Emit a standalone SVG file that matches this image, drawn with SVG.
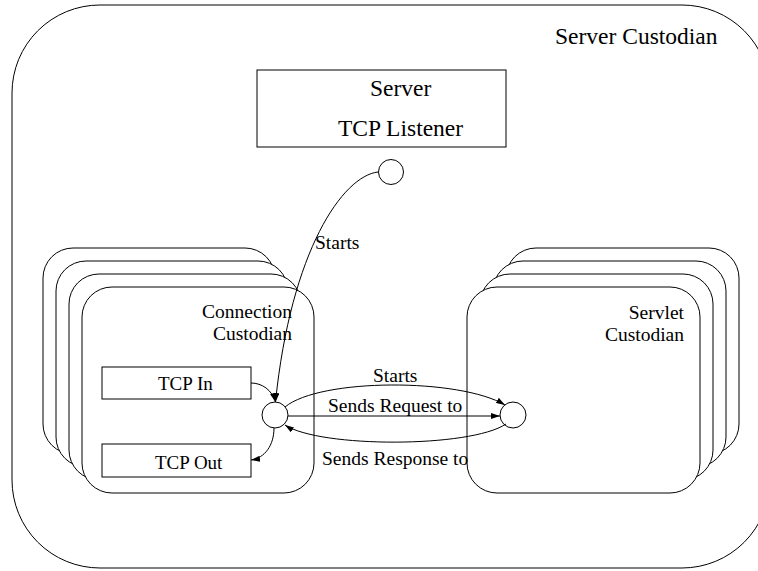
<svg xmlns="http://www.w3.org/2000/svg" width="758" height="571" viewBox="0 0 758 571" font-family="'Liberation Serif', 'Times New Roman', serif">
  <defs>
    <marker id="arrow" viewBox="0 0 10 10" refX="10" refY="5" markerWidth="9" markerHeight="6" orient="auto" markerUnits="userSpaceOnUse" preserveAspectRatio="none">
      <path d="M0,0 L10,5 L0,10 z" fill="#000"/>
    </marker>
  </defs>
  <style>
    .shape { fill: #fff; stroke: #000; stroke-width: 1; }
    .port { fill: #fff; stroke: #000; stroke-width: 1; }
    .edge { fill: none; stroke: #000; stroke-width: 1; marker-end: url(#arrow); }
    text { font-family: 'Liberation Serif', 'Times New Roman', serif; fill: #000; }
    .big { font-size: 23.5px; }
    .small { font-size: 19.5px; }
    .box { font-size: 19px; }
  </style>

  <!-- outer custodian -->
  <g id="server-custodian">
    <rect class="shape" x="12" y="5" width="758" height="563" rx="88" ry="88" stroke-width="1.2"/>
    <text class="big" x="555" y="44">Server Custodian</text>
  </g>

  <!-- server / listener box -->
  <g id="server">
    <rect class="shape" x="257" y="70" width="249" height="77"/>
    <text class="big" x="370" y="96">Server</text>
    <text class="big" x="338" y="136">TCP Listener</text>
  </g>
  <g id="listener-port">
    <circle class="port" cx="391" cy="172" r="12.5"/>
  </g>

  <!-- stack of connection custodians, back to front -->
  <g id="connection-custodian">
    <rect class="shape" x="43" y="248" width="232" height="206" rx="30" ry="30"/>
    <rect class="shape" x="56" y="261" width="232" height="206" rx="30" ry="30"/>
    <rect class="shape" x="69" y="274" width="232" height="206" rx="30" ry="30"/>
    <rect class="shape" x="82" y="287" width="232" height="206" rx="30" ry="30"/>
    <text class="small" x="292" y="318" text-anchor="end">Connection</text>
    <text class="small" x="292" y="340" text-anchor="end">Custodian</text>
  </g>

  <!-- stack of servlet custodians, back to front -->
  <g id="servlet-custodian">
    <rect class="shape" x="506" y="248" width="233" height="206" rx="30" ry="30"/>
    <rect class="shape" x="493" y="261" width="233" height="206" rx="30" ry="30"/>
    <rect class="shape" x="480" y="274" width="233" height="206" rx="30" ry="30"/>
    <rect class="shape" x="467" y="287" width="233" height="206" rx="30" ry="30"/>
    <text class="small" x="684" y="319" text-anchor="end">Servlet</text>
    <text class="small" x="684" y="341" text-anchor="end">Custodian</text>
  </g>

  <g id="tcp-in">
    <rect class="shape" x="102" y="367" width="149" height="32"/>
    <text class="box" x="158" y="390">TCP In</text>
  </g>
  <g id="tcp-out">
    <rect class="shape" x="102" y="444" width="149" height="33"/>
    <text class="box" x="155" y="469">TCP Out</text>
  </g>

  <g id="connection-port">
    <circle class="port" cx="275" cy="415" r="13"/>
  </g>
  <g id="servlet-port">
    <circle class="port" cx="513" cy="415" r="13"/>
  </g>

  <!-- connectors -->
  <g id="connectors">
    <path class="edge" d="M378,172 C343,176 291,250 275.5,402"/>
    <path class="edge" d="M251,383 C262,383 272,390 275.5,402"/>
    <path class="edge" d="M274,428 C274,445 265,458 251,460"/>
    <path class="edge" d="M285,407 C320,378 460,378 505,405"/>
    <path class="edge" d="M288,416 L500,416"/>
    <path class="edge" d="M506,424 C470,448 320,448 285,425"/>
  </g>

  <!-- connector labels -->
  <g id="labels">
    <text class="small" x="315" y="249">Starts</text>
    <text class="small" x="373" y="382">Starts</text>
    <text class="small" x="328" y="412">Sends Request to</text>
    <text class="small" x="322" y="465">Sends Response to</text>
  </g>
</svg>
